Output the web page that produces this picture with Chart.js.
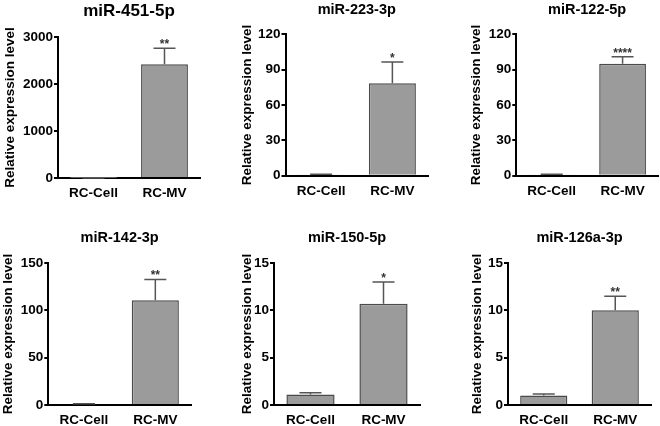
<!DOCTYPE html>
<html>
<head>
<meta charset="utf-8">
<script src="https://cdn.jsdelivr.net/npm/chart.js@4.4.0/dist/chart.umd.min.js"></script>
<style>
html, body { margin: 0; padding: 0; background: #fff; }
#wrap { position: relative; width: 660px; height: 426px; }
.cell { position: absolute; width: 220px; height: 213px; }
</style>
</head>
<body>
<div id="wrap"></div>
<script>
// data
var categories = ['RC-Cell', 'RC-MV'];
var titles     = ['miR-451-5p', 'miR-223-3p', 'miR-122-5p', 'miR-142-3p', 'miR-150-5p', 'miR-126a-3p'];
var cellMeans  = [1, 1, 1, 1, 1.1, 1.0];
var cellErrors = [0.3, 0.3, 0.3, 0.4, 0.2, 0.15];
var mvMeans    = [2420, 78.5, 95, 110.6, 10.7, 10.0];
var mvErrors   = [340, 18, 6, 22, 2.3, 1.5];
var stars      = ['**', '*', '****', '**', '*', '**'];
var yMax       = [3000, 120, 120, 150, 15, 15];
var yStep      = [1000, 30, 30, 50, 5, 5];

// where each panel sits (px inside its 220x213 cell)
var boxes = [
    {x: 0,   y: 0,   left: 58,   right: 200, top: 37,   bottom: 178,   tY: 11.5, tSize: 17, yTitleX: 10.7},
    {x: 220, y: 0,   left: 65.5, right: 208, top: 34.3, bottom: 175.7, tY: 10.3, tSize: 14.5, yTitleX: 27},
    {x: 440, y: 0,   left: 76.3, right: 218, top: 34.3, bottom: 175.7, tY: 10.3, tSize: 14.5, yTitleX: 36.7},
    {x: 0,   y: 213, left: 48.3, right: 191, top: 50,   bottom: 192,   tY: 25.2, tSize: 14.5, yTitleX: 8.3},
    {x: 220, y: 213, left: 54,   right: 200, top: 50,   bottom: 192,   tY: 25.2, tSize: 14.5, yTitleX: 27.2},
    {x: 440, y: 213, left: 68,   right: 211, top: 50,   bottom: 192,   tY: 25.2, tSize: 14.5, yTitleX: 37.2}
];

Chart.defaults.font.family = '"Liberation Sans", Arial, sans-serif';
Chart.defaults.color = '#000';

// SEM bars + significance stars
var errorBarPlugin = {
    id: 'errorBars',
    afterDatasetsDraw: function(chart) {
        var ctx = chart.ctx;
        var ds = chart.data.datasets[0];
        var meta = chart.getDatasetMeta(0);
        var y = chart.scales.y;
        ctx.save();
        ctx.strokeStyle = '#555';
        ctx.lineWidth = 1.5;
        meta.data.forEach(function(bar, j) {
            var base = y.getPixelForValue(ds.data[j]);
            var top = y.getPixelForValue(ds.data[j] + ds.errors[j]);
            ctx.beginPath();
            ctx.moveTo(bar.x, base);
            ctx.lineTo(bar.x, top);
            ctx.moveTo(bar.x - 11, top);
            ctx.lineTo(bar.x + 11, top);
            ctx.stroke();
        });
        var last = meta.data[1];
        var sTop = y.getPixelForValue(ds.data[1] + ds.errors[1]);
        ctx.fillStyle = '#333';
        ctx.font = 'bold 12px "Liberation Sans", Arial, sans-serif';
        ctx.textAlign = 'center';
        ctx.textBaseline = 'alphabetic';
        ctx.fillText(ds.star, last.x, sTop);
        ctx.restore();
    }
};

var wrap = document.getElementById('wrap');

for (var i = 0; i < titles.length; i++) {
    (function(i) {
        var b = boxes[i];
        var div = document.createElement('div');
        div.className = 'cell';
        div.style.left = b.x + 'px';
        div.style.top = b.y + 'px';
        var cv = document.createElement('canvas');
        cv.width = 220;
        cv.height = 213;
        div.appendChild(cv);
        wrap.appendChild(div);

        var padLeft = b.yTitleX - 13.5 * 1.2 / 2;
        var titleLH = b.tSize * 1.2;

        new Chart(cv, {
            type: 'bar',
            data: {
                labels: categories,
                datasets: [{
                    data: [cellMeans[i], mvMeans[i]],
                    errors: [cellErrors[i], mvErrors[i]],
                    star: stars[i],
                    backgroundColor: '#9b9b9b',
                    borderColor: '#4a4a4a',
                    borderWidth: 1.5,
                    barPercentage: 1,
                    categoryPercentage: 0.66
                }]
            },
            options: {
                responsive: false,
                animation: false,
                layout: {
                    padding: {left: padLeft, right: 220 - b.right, top: b.tY - titleLH / 2, bottom: 0}
                },
                plugins: {
                    legend: {display: false},
                    tooltip: {enabled: false},
                    title: {
                        display: true,
                        text: titles[i],
                        fullSize: false,
                        color: '#000',
                        font: {size: b.tSize, weight: 'bold', lineHeight: 1.2},
                        padding: {top: 0, bottom: b.top - b.tY - titleLH / 2}
                    }
                },
                scales: {
                    x: {
                        grid: {display: false, drawTicks: false},
                        border: {display: true, color: '#000', width: 2},
                        ticks: {color: '#000', font: {size: 13.5, weight: 'bold'}, padding: 7},
                        afterFit: function(s) { s.height = 213 - b.bottom; }
                    },
                    y: {
                        min: 0,
                        max: yMax[i],
                        ticks: {
                            stepSize: yStep[i], color: '#000', font: {size: 13.5, weight: 'bold'}, padding: 1,
                            callback: function(v) { return String(v); }
                        },
                        grid: {display: true, drawOnChartArea: false, drawTicks: true, tickLength: 4, color: '#000', lineWidth: 2},
                        border: {display: true, color: '#000', width: 2},
                        title: {display: true, text: 'Relative expression level', color: '#000', font: {size: 13.5, weight: 'bold', lineHeight: 1.2}, padding: 0},
                        afterFit: function(s) { s.width = b.left - padLeft; }
                    }
                }
            },
            plugins: [errorBarPlugin]
        });
    })(i);
}
</script>
</body>
</html>
